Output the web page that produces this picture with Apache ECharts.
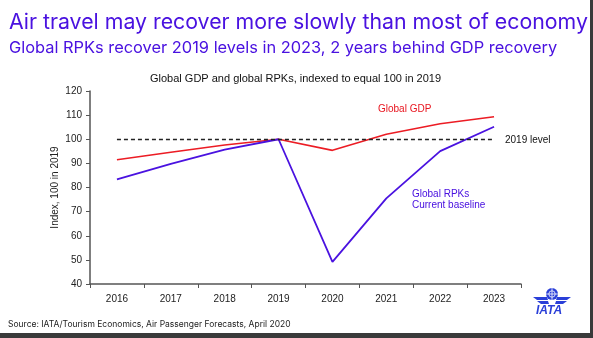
<!DOCTYPE html>
<html><head><meta charset="utf-8">
<script src="https://cdn.jsdelivr.net/npm/echarts@6/dist/echarts.min.js"></script>
<style>html,body{margin:0;padding:0;background:#fff}#c{width:593px;height:338px}</style>
</head><body><div id="c"></div>
<script>
var years = ['2016','2017','2018','2019','2020','2021','2022','2023'];
var gdp = [91.5, 94.6, 97.6, 100, 95.4, 102.1, 106.4, 109.3];
var rpk = [83.4, 89.8, 95.7, 100, 49.2, 75.5, 95.1, 105.2];
var levelValue = 100;
var yTicks = [40, 120, 10];

var purple = '#4a12e0';
var chart = echarts.init(document.getElementById('c'), null, {renderer:'canvas'});
chart.setOption({
  animation:false,
  backgroundColor:'#fff',
  grid:{left:90, right:72, top:91, bottom:54},
  title:[
    {text:'Air travel may recover more slowly than most of economy', left:4, top:7,
     textStyle:{fontFamily:'Inter', fontWeight:'normal', fontSize:21.3, color:purple}},
    {text:'Global RPKs recover 2019 levels in 2023, 2 years behind GDP recovery', left:4, top:35,
     textStyle:{fontFamily:'Inter', fontWeight:'normal', fontSize:16.4, color:purple}},
    {text:'Global GDP and global RPKs, indexed to equal 100 in 2019', left:145, top:68,
     textStyle:{fontFamily:'Liberation Sans', fontWeight:'normal', fontSize:11, color:'#111'}},
    {text:'Source: IATA/Tourism Economics, Air Passenger Forecasts, April 2020', left:3, top:315,
     textStyle:{fontFamily:'Inter', fontWeight:'normal', fontSize:8.5, color:'#222'}}
  ],
  xAxis:{type:'category', data:years, boundaryGap:true,
    axisLine:{lineStyle:{color:'#555', width:1.5}},
    axisTick:{show:true, length:4, lineStyle:{color:'#555'}},
    axisLabel:{color:'#222', fontSize:10, fontFamily:'Liberation Sans', margin:10}},
  yAxis:{type:'value', min:yTicks[0], max:yTicks[1], interval:yTicks[2],
    name:'Index, 100 in 2019', nameLocation:'middle', nameGap:30, nameRotate:90, nameMoveOverlap:false,
    nameTextStyle:{color:'#222', fontSize:10, fontFamily:'Liberation Sans'},
    axisLine:{show:true, lineStyle:{color:'#555', width:1.5}},
    axisTick:{show:true, length:4, inside:false, lineStyle:{color:'#555'}},
    splitLine:{show:false},
    axisLabel:{color:'#222', fontSize:10, fontFamily:'Liberation Sans', margin:8}},
  series:[
    {type:'line', name:'Global GDP', data:gdp, symbol:'none', lineStyle:{color:'#ec1c24', width:1.6},
     markLine:{silent:true, symbol:'none', label:{show:false},
       lineStyle:{color:'#222', type:[4,3], width:1.3},
       data:[[{coord:[years[0], levelValue]},{coord:[years[years.length-1], levelValue]}]]}},
    {type:'line', name:'Global RPKs', data:rpk, symbol:'none', lineStyle:{color:purple, width:1.8}}
  ],
  graphic:[
    {type:'text', left:378, top:104, style:{text:'Global GDP', fill:'#e8141e', font:'10px "Liberation Sans"'}},
    {type:'text', left:412, top:189, style:{text:'Global RPKs\nCurrent baseline', fill:purple, font:'10px "Liberation Sans"', lineHeight:11}},
    {type:'text', left:505, top:135, style:{text:'2019 level', fill:'#111', font:'10px "Liberation Sans"'}},
    {type:'rect', shape:{x:590, y:0, width:3, height:338}, style:{fill:'#3a3a3a'}},
    {type:'rect', shape:{x:0, y:333, width:593, height:5}, style:{fill:'#3a3a3a'}},
    // IATA logo
    {type:'circle', shape:{cx:552, cy:294, r:6}, style:{fill:'#2a3fd8'}},
    {type:'circle', shape:{cx:552, cy:294, r:3.2}, style:{fill:'none', stroke:'#fff', lineWidth:0.8}},
    {type:'line', shape:{x1:546, y1:294, x2:558, y2:294}, style:{stroke:'#fff', lineWidth:0.8}},
    {type:'line', shape:{x1:552, y1:288, x2:552, y2:300}, style:{stroke:'#fff', lineWidth:0.8}},
    {type:'polygon', shape:{points:[[533,297],[547,297],[548,300],[537,300]]}, style:{fill:'#2a3fd8'}},
    {type:'polygon', shape:{points:[[537,301],[548,301],[549,304],[541,304]]}, style:{fill:'#2a3fd8'}},
    {type:'polygon', shape:{points:[[571,297],[557,297],[556,300],[567,300]]}, style:{fill:'#2a3fd8'}},
    {type:'polygon', shape:{points:[[567,301],[556,301],[555,304],[563,304]]}, style:{fill:'#2a3fd8'}},
    {type:'text', left:536, top:305, style:{text:'IATA', fill:'#2a3fd8', font:'italic bold 12px "Liberation Sans"'}}
  ]
});
</script></body></html>
